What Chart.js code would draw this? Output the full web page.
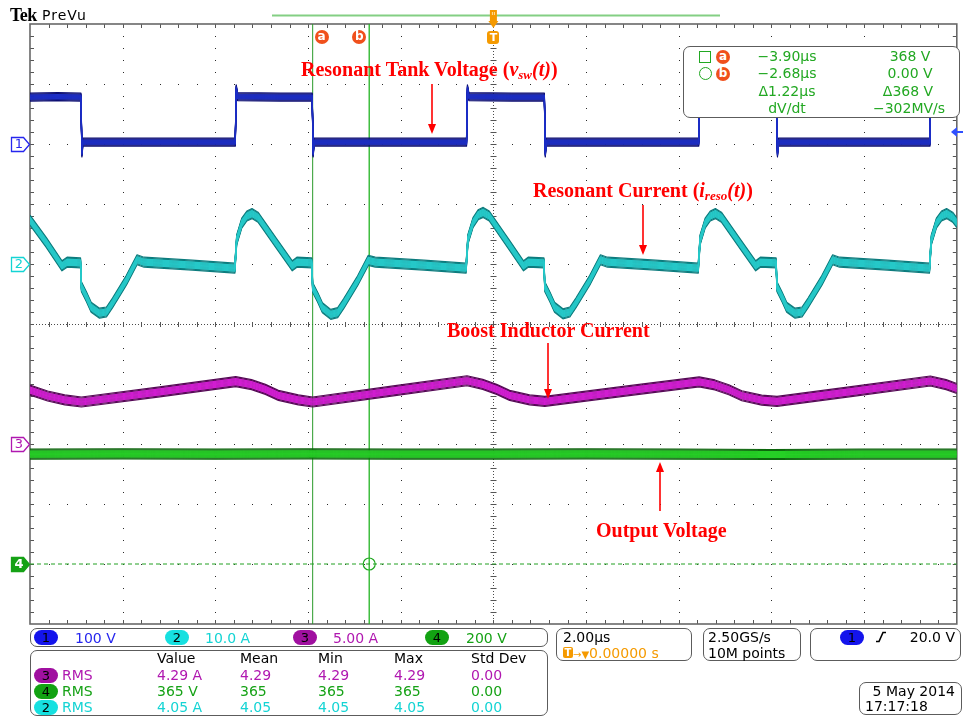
<!DOCTYPE html>
<html>
<head>
<meta charset="utf-8">
<script src="https://cdn.jsdelivr.net/npm/chart.js@4.4.0/dist/chart.umd.min.js"></script>
<style>
  html, body { margin: 0; padding: 0; background: #fff; }
  #scope { position: relative; width: 964px; height: 719px; overflow: hidden; font-family: "DejaVu Sans", sans-serif; }
  #scope canvas { position: absolute; left: 0; top: 0; }
  .t { position: absolute; white-space: nowrap; font-size: 14px; line-height: 16px; }
  .box { position: absolute; border: 1.5px solid #5c5c5c; border-radius: 7px; box-sizing: border-box; }
  .pill { position: absolute; width: 24px; height: 15px; border-radius: 8px; text-align: center; line-height: 15px; font-size: 13px; color: #000; }
  .dot { position: absolute; width: 14px; height: 14px; border-radius: 50%; background: #f0501c; color: #fff; font-weight: bold; font-size: 12px; line-height: 13px; text-align: center; }
  .note { position: absolute; white-space: nowrap; font-family: "Liberation Serif", "Times New Roman", serif; font-weight: bold; font-size: 20px; line-height: 22px; color: #ff0000; }
  .note sub { font-size: 13px; vertical-align: -3px; line-height: 0; }
  .mark { position: absolute; width: 18px; text-align: center; font-size: 13px; line-height: 14px; }
</style>
</head>
<body>
<div id="scope"><canvas id="c" width="964" height="719"></canvas></div>
<script>
// ---- acquisition settings ----
const timeRange = [-10, 10];      // µs across the screen
const timePerDiv = 2.0;           // µs/div
const divRange = [-5, 5];         // vertical graticule, divisions

const chColors = ['#2626ee', '#14d4d4', '#b018b0', '#16a216'];
const chScale  = [100, 10.0, 5.00, 200];   // units per division
const chUnit   = ['V', 'A', 'A', 'V'];
const chPos    = [3, 1, -2, -4];           // ground marker, divisions from centre

// ---- waveforms: [time µs, value] ----
// CH1 resonant tank voltage (V)
const ch1Volts = [
  [-10.00, 78], [-9.40, 79], [-8.90, 78], [-8.88, -15], [-8.86, 3], [-7.30, 3], [-5.57, 3],
  [-5.55, 92], [-5.52, 79], [-4.60, 78], [-3.91, 78], [-3.89, -15], [-3.87, 3], [-2.30, 3], [-0.58, 3],
  [-0.56, 92], [-0.53, 79], [0.40, 78], [1.10, 78], [1.12, -15], [1.14, 3], [2.70, 3], [4.43, 3],
  [4.45, 92], [4.48, 79], [5.30, 78], [6.11, 78], [6.13, -15], [6.15, 3], [7.80, 3], [9.42, 3],
  [9.44, 92], [9.47, 79], [10.00, 78]
];
// CH2 resonant current (A)
const ch2Amps = [
  [-10.00, 7.3], [-9.65, 3.6], [-9.31, -0.3], [-9.20, 0.3], [-8.91, 0.2],
  [-8.89, -3.8], [-8.78, -5.5], [-8.68, -7.2], [-8.50, -8.2], [-8.35, -8.0], [-8.22, -6.5], [-7.92, -2.7],
  [-7.69, 0.7], [-7.54, 0.3], [-6.50, -0.2], [-5.58, -0.7],
  [-5.54, 4.0], [-5.43, 6.8], [-5.32, 8.0], [-5.21, 8.4], [-5.08, 7.8], [-4.66, 3.2], [-4.34, -0.3],
  [-4.24, 0.3], [-3.92, 0.2],
  [-3.90, -3.9], [-3.79, -5.6], [-3.69, -7.3], [-3.51, -8.4], [-3.36, -8.1], [-3.23, -6.6], [-2.93, -2.8],
  [-2.70, 0.6], [-2.55, 0.3], [-1.50, -0.2], [-0.59, -0.7],
  [-0.55, 4.1], [-0.44, 6.9], [-0.33, 8.2], [-0.22, 8.6], [-0.09, 8.0], [0.33, 3.3], [0.65, -0.3],
  [0.75, 0.3], [1.09, 0.2],
  [1.11, -3.8], [1.22, -5.5], [1.32, -7.2], [1.50, -8.3], [1.65, -8.0], [1.78, -6.5], [2.08, -2.7],
  [2.31, 0.7], [2.46, 0.3], [3.50, -0.2], [4.42, -0.7],
  [4.46, 4.0], [4.57, 6.8], [4.68, 8.0], [4.79, 8.4], [4.92, 7.8], [5.34, 3.2], [5.66, -0.3],
  [5.76, 0.3], [6.10, 0.2],
  [6.12, -3.8], [6.23, -5.5], [6.33, -7.2], [6.51, -8.2], [6.66, -8.0], [6.79, -6.5], [7.09, -2.7],
  [7.32, 0.7], [7.47, 0.3], [8.50, -0.2], [9.41, -0.7],
  [9.45, 4.0], [9.56, 6.8], [9.67, 8.0], [9.78, 8.4], [9.91, 7.8], [10.00, 6.9]
];
// CH3 boost inductor current (A)
const ch3Amps = [
  [-10.00, 4.5], [-9.62, 4.0], [-9.25, 3.68], [-8.89, 3.5],
  [-7.20, 4.35], [-5.56, 5.2],
  [-5.22, 4.95], [-4.92, 4.55], [-4.64, 4.05], [-4.21, 3.68], [-3.90, 3.5],
  [-2.20, 4.4], [-0.57, 5.27],
  [-0.23, 4.97], [0.07, 4.55], [0.35, 4.05], [0.78, 3.68], [1.11, 3.55],
  [2.80, 4.38], [4.44, 5.18],
  [4.78, 4.92], [5.08, 4.52], [5.36, 4.02], [5.79, 3.66], [6.12, 3.55],
  [7.80, 4.4], [9.43, 5.25],
  [9.77, 4.95], [10.00, 4.62]
];
// CH4 output voltage (V)
const ch4Volts = [
  [-10, 366], [-8, 367], [-6, 366], [-4, 367], [-2, 366], [0, 366],
  [2, 367], [4, 366], [6, 365], [8, 366], [10, 366]
];

// ---- cursors (source CH4) ----
const cursorTimes = [-3.90, -2.68];   // µs
const cursorVolts = [368, 0.00];      // V

// ---- trigger / acquisition readouts ----
const triggerLevel = 20.0;            // V on CH1
const sampleRate = '2.50GS/s';
const recordLength = '10M points';
const dateText = '5 May 2014';
const timeText = '17:17:18';

// ---- measurements ----
const measHeader = ['Value', 'Mean', 'Min', 'Max', 'Std Dev'];
const measChannel = [3, 4, 2];
const measValue = ['4.29 A', '365 V', '4.05 A'];
const measMean  = ['4.29', '365', '4.05'];
const measMin   = ['4.29', '365', '4.05'];
const measMax   = ['4.29', '365', '4.05'];
const measStd   = ['0.00', '0.00', '0.00'];

// trace appearance: dark noise envelope and bright core
const traceStyle = [
  { dark: '#0b0d72', core: '#1c2ec6', outer: 4, inner: 2 },
  { dark: '#0d7c7e', core: '#26c8c8', outer: 5, inner: 3 },
  { dark: '#560856', core: '#d01ed0', outer: 5, inner: 3 },
  { dark: '#0d660d', core: '#26d026', outer: 5, inner: 3 }
];

const toDiv = (pts, ch) => pts.map(([t, v]) => ({ x: t, y: chPos[ch] + v / chScale[ch] }));

// graticule: dotted divisions, centre cross with minor ticks, border ticks
const graticule = {
  id: 'graticule',
  beforeDatasetsDraw(chart) {
    const { ctx, chartArea: a, scales: { x, y } } = chart;
    const nx = (timeRange[1] - timeRange[0]) / timePerDiv;
    const ny = divRange[1] - divRange[0];
    const X = d => x.getPixelForValue(timeRange[0] + d * timePerDiv);
    const Y = d => y.getPixelForValue(divRange[1] - d);
    const dot = (px, py) => ctx.fillRect(Math.round(px), Math.round(py), 1, 1);
    ctx.save();
    ctx.fillStyle = '#2a2a2a';
    for (let i = 1; i < nx; i++) {
      if (i === nx / 2) continue;
      for (let k = 1; k < ny * 5; k++) dot(X(i), Y(k / 5));
    }
    for (let j = 1; j < ny; j++) {
      if (j === ny / 2) continue;
      for (let k = 1; k < nx * 5; k++) dot(X(k / 5), Y(j));
    }
    const cx = X(nx / 2), cy = Y(ny / 2);
    ctx.fillStyle = '#4a4a4a';
    for (let px = a.left; px < a.right; px += 3) dot(px, cy);
    for (let py = a.top; py < a.bottom; py += 3) dot(cx, py);
    ctx.strokeStyle = '#555';
    ctx.lineWidth = 1;
    ctx.beginPath();
    const rcx = Math.round(cx) + 0.5, rcy = Math.round(cy) + 0.5;
    for (let k = 1; k < nx * 5; k++) {
      const px = Math.round(X(k / 5)) + 0.5;
      ctx.moveTo(px, rcy - 2.5); ctx.lineTo(px, rcy + 2.5);
      ctx.moveTo(px, a.top); ctx.lineTo(px, a.top + 4);
      ctx.moveTo(px, a.bottom); ctx.lineTo(px, a.bottom - 4);
    }
    for (let k = 1; k < ny * 5; k++) {
      const py = Math.round(Y(k / 5)) + 0.5;
      ctx.moveTo(rcx - 3, py); ctx.lineTo(rcx + 3, py);
      ctx.moveTo(a.left, py); ctx.lineTo(a.left + 4, py);
      ctx.moveTo(a.right, py); ctx.lineTo(a.right - 4, py);
    }
    ctx.stroke();
    ctx.strokeStyle = '#686868';
    ctx.lineWidth = 1.6;
    ctx.strokeRect(a.left, a.top, a.right - a.left, a.bottom - a.top);
    ctx.restore();
  }
};

// noisy trace envelope: the trace path swept vertically with a 1px pen
const envelope = {
  id: 'envelope',
  beforeDatasetDraw(chart, args) {
    const ds = chart.data.datasets[args.index];
    if (!ds.envelope) return;
    const { ctx, chartArea: a } = chart;
    const pts = args.meta.data;
    ctx.save();
    ctx.beginPath();
    ctx.rect(a.left, a.top, a.right - a.left, a.bottom - a.top);
    ctx.clip();
    ctx.lineWidth = 1.2;
    ctx.lineJoin = 'round';
    const layers = [[ds.envelope.outer, ds.envelope.dark], [ds.envelope.inner, ds.envelope.core]];
    for (const [h, color] of layers) {
      ctx.strokeStyle = color;
      for (let dy = -h; dy <= h; dy += 1) {
        ctx.beginPath();
        pts.forEach((p, i) => (i ? ctx.lineTo(p.x, p.y + dy) : ctx.moveTo(p.x, p.y + dy)));
        ctx.stroke();
      }
    }
    ctx.restore();
  }
};

// hand-drawn annotation arrows [x0, y0, x1, y1]
const noteArrows = [[432, 84, 432, 134], [643, 205, 643, 255], [548, 343, 548, 399], [660, 511, 660, 462]];

function drawArrow(ctx, x0, y0, x1, y1) {
  const ang = Math.atan2(y1 - y0, x1 - x0), L = 10, W = 4;
  const c = Math.cos(ang), s = Math.sin(ang);
  ctx.beginPath();
  ctx.moveTo(x0, y0);
  ctx.lineTo(x1 - L * 0.8 * c, y1 - L * 0.8 * s);
  ctx.stroke();
  ctx.beginPath();
  ctx.moveTo(x1, y1);
  ctx.lineTo(x1 - L * c + W * s, y1 - L * s - W * c);
  ctx.lineTo(x1 - L * c - W * s, y1 - L * s + W * c);
  ctx.closePath();
  ctx.fill();
}

// screen furniture outside the traces
const furniture = {
  id: 'furniture',
  afterDraw(chart) {
    const { ctx, chartArea: a, scales: { x, y } } = chart;
    ctx.save();
    // record view bar
    ctx.strokeStyle = '#84cf84';
    ctx.lineWidth = 2;
    ctx.beginPath(); ctx.moveTo(272, 15.5); ctx.lineTo(720, 15.5); ctx.stroke();
    // expansion point icon at the trigger time
    const tx = x.getPixelForValue(0);
    ctx.fillStyle = '#f59a00';
    ctx.fillRect(tx - 3.5, 10, 7, 12);
    ctx.fillStyle = '#ffe0a0';
    ctx.fillRect(tx - 1.5, 12, 1, 3); ctx.fillRect(tx + 0.5, 12, 1, 3);
    ctx.fillStyle = '#f59a00';
    ctx.beginPath(); ctx.moveTo(tx - 5, 21); ctx.lineTo(tx + 5, 21); ctx.lineTo(tx, 28); ctx.closePath(); ctx.fill();
    // channel ground markers
    chPos.forEach((p, i) => {
      const cy = Math.round(y.getPixelForValue(p)) + 0.5;
      ctx.beginPath();
      ctx.moveTo(11.5, cy - 7); ctx.lineTo(23.5, cy - 7); ctx.lineTo(29.5, cy);
      ctx.lineTo(23.5, cy + 7); ctx.lineTo(11.5, cy + 7); ctx.closePath();
      ctx.fillStyle = i === 3 ? chColors[3] : '#fff';
      ctx.fill();
      ctx.strokeStyle = chColors[i];
      ctx.lineWidth = 1.3;
      ctx.stroke();
    });
    // CH1 trigger level arrow on the right edge
    const ty = y.getPixelForValue(chPos[0] + triggerLevel / chScale[0]);
    ctx.fillStyle = '#3050ff';
    ctx.beginPath(); ctx.moveTo(951, ty); ctx.lineTo(957, ty - 5); ctx.lineTo(957, ty + 5); ctx.closePath(); ctx.fill();
    ctx.fillRect(956, ty - 1, 7, 2);
    // annotation arrows
    ctx.strokeStyle = '#ff0000';
    ctx.fillStyle = '#ff0000';
    ctx.lineWidth = 1.6;
    noteArrows.forEach(r => drawArrow(ctx, ...r));
    ctx.restore();
  }
};

const traces = [ch1Volts, ch2Amps, ch3Amps, ch4Volts];
const traceSets = [3, 2, 1, 0].map(ch => ({
  data: toDiv(traces[ch], ch),
  borderColor: traceStyle[ch].core,
  borderWidth: 1,
  pointRadius: 0,
  envelope: traceStyle[ch]
}));

const gndY = chPos[3];
const datasets = [
  { data: [{ x: timeRange[0], y: gndY }, { x: timeRange[1], y: gndY }], borderColor: '#22a022', borderWidth: 1, borderDash: [4, 3], pointRadius: 0 },
  ...traceSets,
  { data: [{ x: cursorTimes[0], y: divRange[0] }, { x: cursorTimes[0], y: divRange[1] }], borderColor: '#2a9a2a', borderWidth: 1, pointRadius: 0 },
  { data: [{ x: cursorTimes[1], y: divRange[0] }, { x: cursorTimes[1], y: divRange[1] }], borderColor: '#22b422', borderWidth: 1.3, pointRadius: 0 },
  { data: [{ x: cursorTimes[0], y: chPos[3] + cursorVolts[0] / chScale[3] }], showLine: false, pointStyle: 'rect', pointRadius: 4.5, borderColor: '#22a822', backgroundColor: 'rgba(0,0,0,0)', borderWidth: 1.2 },
  { data: [{ x: cursorTimes[1], y: chPos[3] + cursorVolts[1] / chScale[3] }], showLine: false, pointStyle: 'circle', pointRadius: 6, borderColor: '#22a822', backgroundColor: 'rgba(0,0,0,0)', borderWidth: 1.2 }
];

const chart = new Chart(document.getElementById('c'), {
  type: 'line',
  data: { datasets },
  options: {
    responsive: false,
    animation: false,
    devicePixelRatio: 1,
    events: [],
    layout: { padding: { left: 30, right: 1, top: 24, bottom: 95 } },
    elements: { line: { tension: 0 } },
    plugins: { legend: { display: false }, tooltip: { enabled: false } },
    scales: {
      x: { type: 'linear', min: timeRange[0], max: timeRange[1], display: false },
      y: { type: 'linear', min: divRange[0], max: divRange[1], display: false }
    }
  },
  plugins: [graticule, envelope, furniture]
});

// ---- text overlays ----
const scope = document.getElementById('scope');
function el(cls, html, style) {
  const d = document.createElement('div');
  d.className = cls;
  d.innerHTML = html;
  Object.assign(d.style, style);
  scope.appendChild(d);
  return d;
}
function label(str, x, cy, color = '#000', align = 'left', extra = {}) {
  const tr = align === 'center' ? 'translateX(-50%)' : align === 'right' ? 'translateX(-100%)' : 'none';
  return el('t', str, Object.assign({ left: x + 'px', top: (cy - 8) + 'px', color, transform: tr }, extra));
}
function pill(num, cx, cy, bg) {
  return el('pill', String(num), { left: (cx - 12) + 'px', top: (cy - 7.5) + 'px', background: bg });
}
function badge(letter, cx, cy) {
  return el('dot', letter, { left: (cx - 7) + 'px', top: (cy - 7) + 'px' });
}
const minus = v => (v < 0 ? '\u2212' : '') + Math.abs(v).toFixed(2);

// header
el('t', 'Tek', { left: '10px', top: '5px', fontFamily: '"Liberation Serif", serif', fontWeight: 'bold', fontSize: '18px', lineHeight: '20px', letterSpacing: '-0.6px', color: '#000' });
el('t', 'PreVu', { left: '42px', top: '7px', fontSize: '14px', letterSpacing: '1px', color: '#000' });

const xs = chart.scales.x, ys = chart.scales.y;

// channel marker digits
chPos.forEach((p, i) => {
  const cy = Math.round(ys.getPixelForValue(p));
  el('mark', String(i + 1), { left: '10px', top: (cy - 7) + 'px', color: i === 3 ? '#fff' : chColors[i], fontWeight: i === 3 ? 'bold' : 'normal' });
});

// cursor flags and trigger flag
const ca = xs.getPixelForValue(cursorTimes[0]), cb = xs.getPixelForValue(cursorTimes[1]);
badge('a', ca + 9, 37);
badge('b', cb - 10, 37);
el('t', 'T', { left: (xs.getPixelForValue(0) - 6) + 'px', top: '31px', width: '12px', height: '13px', lineHeight: '13px', background: '#f59a00', borderRadius: '3px', color: '#fff', fontWeight: 'bold', fontSize: '11px', textAlign: 'center' });

// annotations
el('note', 'Resonant Tank Voltage (<i>v<sub>sw</sub>(t)</i>)', { left: '301px', top: '58px' });
el('note', 'Resonant Current (<i>i<sub>reso</sub>(t)</i>)', { left: '533px', top: '179px' });
el('note', 'Boost Inductor Current', { left: '447px', top: '319px' });
el('note', 'Output Voltage', { left: '596px', top: '519px' });

// cursor readout
const green = '#22a822';
el('box', '', { left: '683px', top: '46px', width: '277px', height: '72px', background: '#fff' });
el('t', '', { left: '699px', top: '51px', width: '10px', height: '10px', border: '1.5px solid ' + green });
el('t', '', { left: '699px', top: '67px', width: '11px', height: '11px', border: '1.4px solid ' + green, borderRadius: '50%' });
badge('a', 723, 57);
badge('b', 723, 74);
const dt = cursorTimes[1] - cursorTimes[0];
const dv = cursorVolts[1] - cursorVolts[0];
label(minus(cursorTimes[0]) + 'µs', 787, 56, green, 'center');
label(minus(cursorTimes[1]) + 'µs', 787, 73, green, 'center');
label('\u0394' + dt.toFixed(2) + 'µs', 787, 91, green, 'center');
label('dV/dt', 787, 108, green, 'center');
label(cursorVolts[0].toPrecision(3) + ' V', 910, 56, green, 'center');
label(cursorVolts[1].toPrecision(3) + ' V', 910, 73, green, 'center');
label('\u0394' + Math.abs(dv).toPrecision(3) + ' V', 908, 91, green, 'center');
label(minus(Math.round(dv / dt)).replace('.00', '') + 'MV/s', 909, 108, green, 'center');

// channel scale bar
el('box', '', { left: '30px', top: '628px', width: '518px', height: '19px' });
const pillBg = ['#1414ec', '#16e0e0', '#a010a0', '#12a212'];
const scaleX = [46, 177, 305, 437];
const scaleTextX = [75, 205, 333, 466];
chScale.forEach((s, i) => {
  pill(i + 1, scaleX[i], 637.5, pillBg[i]);
  label(s.toPrecision(3) + ' ' + chUnit[i], scaleTextX[i], 637.5, chColors[i]);
});

// measurement table
el('box', '', { left: '30px', top: '650px', width: '518px', height: '66px' });
const colX = [157, 240, 318, 394, 471];
measHeader.forEach((h, i) => label(h, colX[i], 658, '#000'));
const rowY = [675, 691, 707];
measChannel.forEach((ch, r) => {
  const c = chColors[ch - 1];
  pill(ch, 46, rowY[r], pillBg[ch - 1]);
  label('RMS', 62, rowY[r], c);
  [measValue, measMean, measMin, measMax, measStd].forEach((col, k) => label(col[r], colX[k], rowY[r], c));
});

// timebase
el('box', '', { left: '556px', top: '628px', width: '136px', height: '33px' });
label('2.00µs', 563, 637);
el('t', 'T', { left: '563px', top: '647px', width: '10px', height: '11px', lineHeight: '11px', background: '#f59a00', color: '#fff', fontWeight: 'bold', fontSize: '10px', textAlign: 'center', borderRadius: '2px' });
label('<span style="font-size:10px">\u2192\u25BC</span>0.00000 s', 573, 653, '#f59a00');

// acquisition
el('box', '', { left: '703px', top: '628px', width: '98px', height: '33px' });
label(sampleRate, 708, 637);
label(recordLength, 708, 653);

// trigger
el('box', '', { left: '810px', top: '628px', width: '151px', height: '33px' });
pill(1, 852, 637, pillBg[0]);
el('t', '<svg width="12" height="12" viewBox="0 0 12 12"><path d="M1 10.5 H4 L8 1.5 H11" fill="none" stroke="#000" stroke-width="1.6"/></svg>', { left: '875px', top: '631px', lineHeight: '0' });
label(triggerLevel.toFixed(1) + ' V', 955, 637, '#000', 'right');

// date / time
el('box', '', { left: '859px', top: '682px', width: '103px', height: '33px' });
label(dateText, 955, 691, '#000', 'right');
label(timeText, 865, 706, '#000');
</script>
</body>
</html>
